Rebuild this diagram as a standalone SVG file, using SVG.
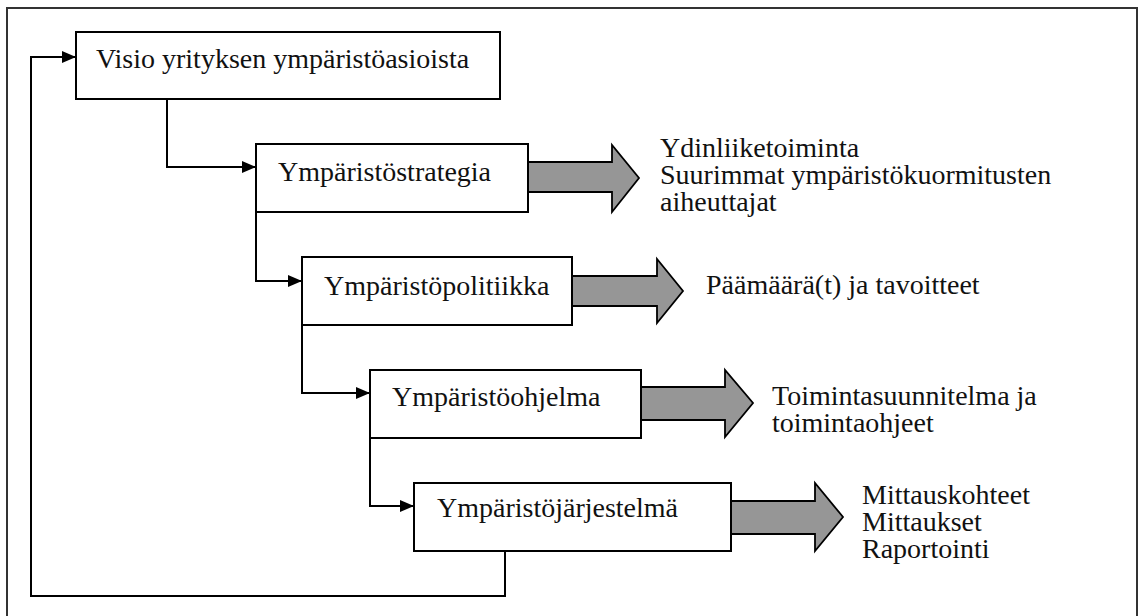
<svg xmlns="http://www.w3.org/2000/svg" width="1139" height="616" viewBox="0 0 1139 616">
<defs>
<style>
.box{fill:#fff;stroke:#000;stroke-width:2}
.lbl{font-family:"Liberation Serif","DejaVu Serif",serif;font-size:28px;fill:#111}
.con{fill:none;stroke:#000;stroke-width:2}
.fat{fill:#969696;stroke:#000;stroke-width:1.8;stroke-linejoin:miter}
.frame{fill:none;stroke:#333;stroke-width:2}
</style>
<marker id="ah" viewBox="0 0 14 12" refX="14" refY="6" markerWidth="14" markerHeight="12" markerUnits="userSpaceOnUse" orient="auto">
<path d="M0,0 L14,6 L0,12 Z" fill="#000"/>
</marker>
</defs>
<rect width="1139" height="616" fill="#fff"/>
<path class="frame" d="M7,620 V8 H1137 V620"/>
<g id="connectors">
<path class="con" d="M167,99 V167 H256" marker-end="url(#ah)"/>
<path class="con" d="M256,212 V281 H302" marker-end="url(#ah)"/>
<path class="con" d="M302,325 V393 H370" marker-end="url(#ah)"/>
<path class="con" d="M370,438 V506 H414" marker-end="url(#ah)"/>
<path class="con" d="M505,551 V596 H31 V57 H76" marker-end="url(#ah)"/>
<path class="fat" d="M528,162 H612 V145 L639,178 L612,212 V192 H528 Z"/>
<path class="fat" d="M572,276 H657 V259 L683,291 L657,323 V306 H572 Z"/>
<path class="fat" d="M641,387 H725 V370 L753,403 L725,437 V420 H641 Z"/>
<path class="fat" d="M731,501 H815 V483 L843,517 L815,551 V534 H731 Z"/>
</g>
<g id="n1">
<rect class="box" x="76" y="32" width="424" height="67"/>
<text class="lbl" x="96" y="68">Visio yrityksen ympäristöasioista</text>
</g>
<g id="n2">
<rect class="box" x="256" y="144" width="272" height="68"/>
<text class="lbl" x="278" y="181">Ympäristöstrategia</text>
</g>
<g id="n3">
<rect class="box" x="302" y="257" width="270" height="68"/>
<text class="lbl" x="324" y="295">Ympäristöpolitiikka</text>
</g>
<g id="n4">
<rect class="box" x="370" y="370" width="271" height="68"/>
<text class="lbl" x="392" y="406">Ympäristöohjelma</text>
</g>
<g id="n5">
<rect class="box" x="414" y="483" width="317" height="68"/>
<text class="lbl" x="437" y="517">Ympäristöjärjestelmä</text>
</g>
<g id="t2">
<text class="lbl" x="660" y="157">Ydinliiketoiminta</text>
<text class="lbl" x="660" y="184">Suurimmat ympäristökuormitusten</text>
<text class="lbl" x="660" y="211">aiheuttajat</text>
</g>
<g id="t3">
<text class="lbl" x="706" y="294">Päämäärä(t) ja tavoitteet</text>
</g>
<g id="t4">
<text class="lbl" x="772" y="405">Toimintasuunnitelma ja</text>
<text class="lbl" x="772" y="432">toimintaohjeet</text>
</g>
<g id="t5">
<text class="lbl" x="862" y="504">Mittauskohteet</text>
<text class="lbl" x="862" y="531">Mittaukset</text>
<text class="lbl" x="862" y="558">Raportointi</text>
</g>
</svg>
